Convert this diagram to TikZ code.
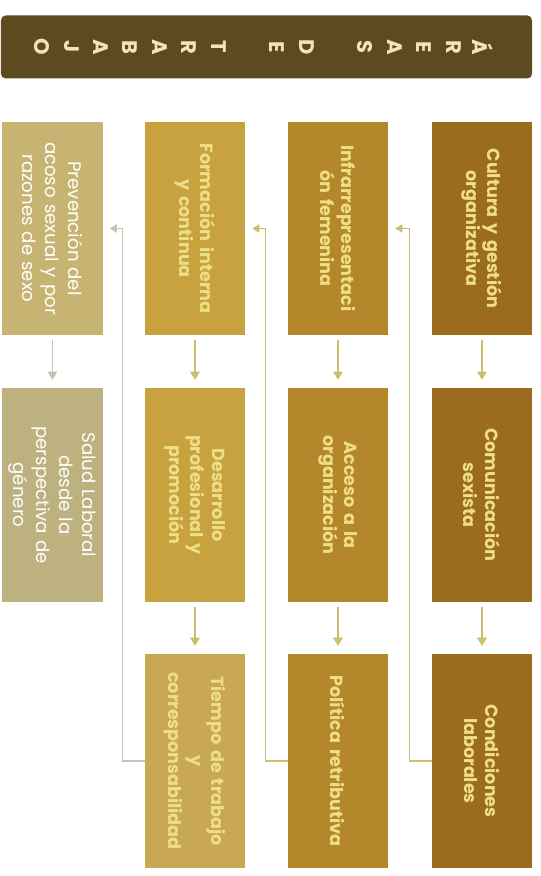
\documentclass[tikz,border=0pt]{standalone}
\usepackage{fontspec}
\setmainfont{Poppins}
\usepackage{tikz}
\usetikzlibrary{arrows.meta, calc}

\definecolor{bannerbrown}{HTML}{5E4A20}
\definecolor{bannertext}{HTML}{EFE4BC}
\definecolor{rowone}{HTML}{9B6B1E}
\definecolor{rowtwo}{HTML}{B4882A}
\definecolor{rowthree}{HTML}{C8A23F}
\definecolor{rowthreelt}{HTML}{C9A853}
\definecolor{rowfour}{HTML}{C8B472}
\definecolor{rowfourlt}{HTML}{BDB27F}
\definecolor{labeltext}{HTML}{EEDF86}
\definecolor{linkolive}{HTML}{CBBF6C}
\definecolor{linkgrey}{HTML}{C6C3B3}

\tikzset{
  % Title bar across the top
  banner/.style={
    fill=bannerbrown, rounded corners=4pt, minimum width=15.93cm,
    minimum height=1.89cm, inner sep=0pt
  },
  % One letter of the title (turned a quarter clockwise)
  bannerchar/.style={
    rotate=-90, text=bannertext, inner sep=0pt,
    font=\fontsize{18}{18}\selectfont\bfseries
  },
  % Area box (text runs top to bottom)
  area/.style={
    rotate=-90, minimum width=6.4cm, minimum height=3cm,
    inner sep=0pt, text width=6.2cm, align=center, text=labeltext,
    font=\fontsize{15}{18.5}\selectfont\bfseries
  },
  % Last row: lighter boxes, white text
  areapale/.style={
    area, text=white, font=\fontsize{15.5}{19.5}\selectfont
  },
  % Arrow: next area in the same row
  flow/.style={
    draw=linkolive, line width=1.6pt,
    -{Triangle[width=8pt, length=7pt]},
    shorten <=4pt, shorten >=7pt
  },
  % Arrow: back up to the first area of the next row
  back/.style={
    draw=linkolive, line width=1.2pt,
    -{Triangle[width=7pt, length=6pt]},
    shorten >=6pt
  }
}

\begin{document}
\begin{tikzpicture}[x=0.03cm, y=-0.03cm]
\useasboundingbox (0,0) rectangle (541,876);

% ============================================================
% TITLE BAR
% ============================================================
\node[banner] (banner) at (266.5,47) {};
\foreach \ch/\i in {Á/0, R/1, E/2, A/3, S/4, D/6, E/7,
                    T/9, R/10, A/11, B/12, A/13, J/14, O/15}
  \node[bannerchar] (letter\i) at ({483-29.4*\i},47) {\ch};

% ============================================================
% ROW 1 -- right column
% ============================================================
\node[area, fill=rowone] (cultura) at (482,228.5) {Cultura y gestión\\organizativa};
\node[area, fill=rowone] (comunic) at (482,495)   {Comunicación\\sexista};
\node[area, fill=rowone] (condic)  at (482,761)   {Condiciones\\laborales};

% ============================================================
% ROW 2
% ============================================================
\node[area, fill=rowtwo] (infra)    at (338,228.5) {Infrarrepresentaci\\ón femenina};
\node[area, fill=rowtwo] (acceso)   at (338,495)   {Acceso a la\\organización};
\node[area, fill=rowtwo] (politica) at (338,761)   {Política retributiva};

% ============================================================
% ROW 3
% ============================================================
\node[area, fill=rowthree]   (formacion)  at (195,228.5) {Formación interna\\y continua};
\node[area, fill=rowthree]   (desarrollo) at (195,495)   {Desarrollo\\profesional y\\promoción};
\node[area, fill=rowthreelt] (tiempo)     at (195,761)   {Tiempo de trabajo\\y\\corresponsabilidad};

% ============================================================
% ROW 4 -- left column
% ============================================================
\node[areapale, fill=rowfour]   (prevencion) at (52.5,228.5) {Prevención del\\acoso sexual y por\\razones de sexo};
\node[areapale, fill=rowfourlt] (salud)      at (52.5,495)   {Salud Laboral\\desde la\\perspectiva de\\género};

% ============================================================
% ARROWS
% ============================================================

% -- inside each row (east = lower edge of a turned box) --
\draw[flow] (cultura.east)   -- (comunic.west);
\draw[flow] (comunic.east)   -- (condic.west);
\draw[flow] (infra.east)     -- (acceso.west);
\draw[flow] (acceso.east)    -- (politica.west);
\draw[flow] (formacion.east) -- (desarrollo.west);
\draw[flow] (desarrollo.east) -- (tiempo.west);
\draw[flow, draw=linkgrey, line width=1.2pt] (prevencion.east) -- (salud.west);

% -- end of a row back to the start of the next one --
\draw[back] (condic.south)   -- ++(-22,0) |- (infra.north);
\draw[back] (politica.south) -- ++(-22,0) |- (formacion.north);
\draw[back, draw=linkgrey] (tiempo.south) -- ++(-22,0) |- (prevencion.north);

\end{tikzpicture}
\end{document}
